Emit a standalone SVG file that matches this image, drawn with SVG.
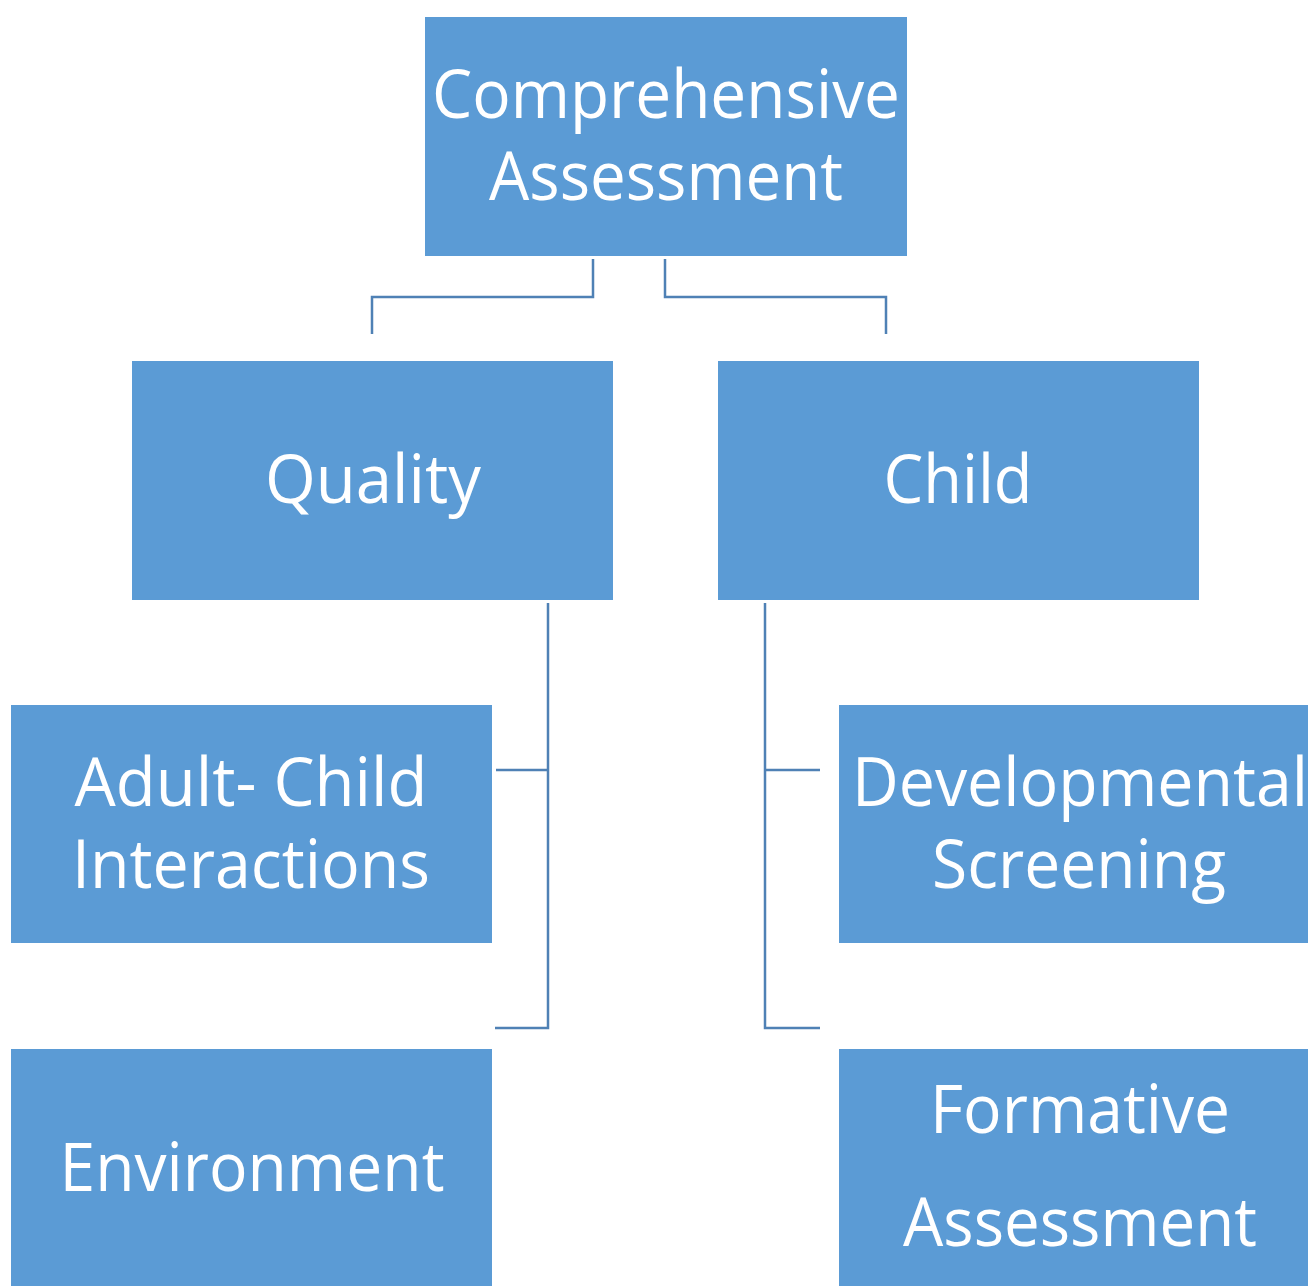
<svg xmlns="http://www.w3.org/2000/svg" width="1308" height="1286" viewBox="0 0 1308 1286">
<style>
.box{fill:#5B9BD5}
.t{font-family:"Open Sans","Liberation Sans",sans-serif;font-size:68px;fill:#fff;text-anchor:middle}
.c{fill:none;stroke:#4F81B5;stroke-width:2.5}
</style>
<rect width="1308" height="1286" fill="#fff"/>
<g id="connectors">
<path class="c" d="M593,259 V297 H372 V334"/>
<path class="c" d="M665,259 V297 H886 V334"/>
<path class="c" d="M548,603 V1028 H495 M548,770 H496"/>
<path class="c" d="M765,603 V1028 H820 M765,770 H820"/>
</g>
<g id="n-comprehensive">
<rect class="box" x="425" y="17" width="482" height="239"/>
<text class="t" x="666" y="118" textLength="468" lengthAdjust="spacingAndGlyphs">Comprehensive</text>
<text class="t" x="666" y="200" textLength="354" lengthAdjust="spacingAndGlyphs">Assessment</text>
</g>
<g id="n-quality">
<rect class="box" x="132" y="361" width="481" height="239"/>
<text class="t" x="373" y="503" textLength="216" lengthAdjust="spacingAndGlyphs">Quality</text>
</g>
<g id="n-child">
<rect class="box" x="718" y="361" width="481" height="239"/>
<text class="t" x="958" y="503" textLength="149" lengthAdjust="spacingAndGlyphs">Child</text>
</g>
<g id="n-adult">
<rect class="box" x="11" y="705" width="481" height="238"/>
<text class="t" x="251" y="806" textLength="353" lengthAdjust="spacingAndGlyphs">Adult- Child</text>
<text class="t" x="251" y="888" textLength="358" lengthAdjust="spacingAndGlyphs">Interactions</text>
</g>
<g id="n-developmental">
<rect class="box" x="839" y="705" width="469" height="238"/>
<text class="t" x="1080" y="806" textLength="456" lengthAdjust="spacingAndGlyphs">Developmental</text>
<text class="t" x="1079" y="888" textLength="294" lengthAdjust="spacingAndGlyphs">Screening</text>
</g>
<g id="n-environment">
<rect class="box" x="11" y="1049" width="481" height="237"/>
<text class="t" x="252" y="1191" textLength="385" lengthAdjust="spacingAndGlyphs">Environment</text>
</g>
<g id="n-formative">
<rect class="box" x="839" y="1049" width="469" height="237"/>
<text class="t" x="1080" y="1133" textLength="300" lengthAdjust="spacingAndGlyphs">Formative</text>
<text class="t" x="1080" y="1246" textLength="354" lengthAdjust="spacingAndGlyphs">Assessment</text>
</g>
</svg>
